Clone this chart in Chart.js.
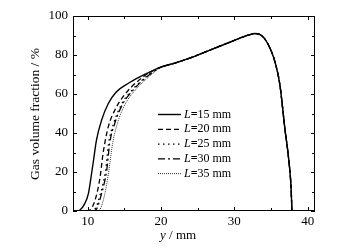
<!DOCTYPE html>
<html>
<head>
    <title>Gas volume fraction</title>
    <script src="https://cdn.jsdelivr.net/npm/chart.js"></script>
    <style>
        body { margin: 0; background: #fff; }
        canvas { display: block; }
    </style>
</head>
<body>
    <canvas id="gasChart" width="337" height="251"></canvas>

    <script>
        // series labels
        const lengths = ['15', '20', '25', '30', '35'];

        // rising part of each curve (y in mm, gas fraction in %)
        const riseX15 = [8.5, 8.95, 9.6, 10.1, 10.4, 10.8, 11.2, 11.9, 12.8, 13.9, 15.5, 17.1, 18.5];
        const riseY15 = [0, 0.5, 3.8, 8.9, 15.8, 26, 36.3, 46.6, 55, 61, 65.4, 68.8, 71.4];

        const riseX20 = [9.8, 10.3, 11.0, 11.7, 12.1, 12.8, 13.7, 14.8, 16.0, 17.3, 18.5];
        const riseY20 = [0, 0.5, 5.5, 17.5, 29.5, 43, 51.7, 58.5, 63.7, 68, 71.2];

        const riseX25 = [10.4, 10.9, 11.75, 12.45, 12.85, 13.55, 14.65, 16.05, 17.2, 18.6];
        const riseY25 = [0, 0.5, 9, 21, 34.6, 45, 55, 62, 66.3, 70.8];

        const riseX30 = [10.6, 11.1, 11.9, 12.6, 13.0, 13.7, 14.8, 16.2, 17.3, 18.7];
        const riseY30 = [0, 0.5, 9, 21, 34.6, 45, 55, 62, 66.3, 70.7];

        const riseX35 = [11.0, 11.6, 12.35, 12.9, 13.4, 14.2, 15.3, 16.7, 17.8, 18.9];
        const riseY35 = [0, 0.5, 9, 21, 34.6, 46.6, 56, 62.9, 67, 70.6];

        // common upper part shared by all curves
        const tailX = [20, 22, 24, 26, 28, 30, 31, 32, 32.8, 33.5, 34.1, 34.8, 35.5, 36.2, 36.9, 37.4, 37.75, 37.85];
        const tailY = [73.8, 76, 78.5, 81.5, 84.5, 87.5, 89, 90.3, 91, 90.5, 88.5, 84, 77, 65, 42, 27, 11, 0];

        // axis tick labels
        const xTicks = [10, 20, 30, 40];
        const xMinor = [15, 25, 35];
        const yTicks = [0, 20, 40, 60, 80, 100];
        const yMinor = [10, 30, 50, 70, 90];

        const dashes = [[], [5, 3], [1.5, 3.5], [7, 3, 2, 3], [1, 1]];
        const widths = [1.4, 1.3, 1.3, 1.3, 0.8];

        const rises = [
            [riseX15, riseY15], [riseX20, riseY20], [riseX25, riseY25],
            [riseX30, riseY30], [riseX35, riseY35]
        ];

        function toPoints(xs, ys) {
            const pts = xs.map((x, i) => ({ x: x, y: ys[i] }));
            return pts.concat(tailX.map((x, i) => ({ x: x, y: tailY[i] })));
        }

        const serif = '"Liberation Serif", "DejaVu Serif", serif';

        const datasets = lengths.map((len, i) => ({
            label: 'L=' + len + ' mm',
            data: toPoints(rises[i][0], rises[i][1]),
            showLine: true,
            borderColor: '#000',
            borderWidth: widths[i],
            borderDash: dashes[i],
            pointRadius: 0,
            cubicInterpolationMode: 'monotone',
            fill: false
        }));

        // frame, inward ticks, legend and axis titles
        const decorations = {
            id: 'decorations',
            afterDatasetsDraw(chart) {
                const ctx = chart.ctx;
                const a = chart.chartArea;
                const xs = chart.scales.x;
                const ys = chart.scales.y;
                ctx.save();
                ctx.strokeStyle = '#000';
                ctx.lineWidth = 1;
                ctx.setLineDash([]);
                ctx.strokeRect(a.left + 0.5, a.top + 0.5, a.right - a.left - 1, a.bottom - a.top - 1);

                ctx.beginPath();
                const xt = (v, len) => {
                    const p = Math.round(xs.getPixelForValue(v)) + 0.5;
                    ctx.moveTo(p, a.bottom); ctx.lineTo(p, a.bottom - len);
                    ctx.moveTo(p, a.top); ctx.lineTo(p, a.top + len);
                };
                const yt = (v, len) => {
                    const p = Math.round(ys.getPixelForValue(v)) + 0.5;
                    ctx.moveTo(a.left, p); ctx.lineTo(a.left + len, p);
                    ctx.moveTo(a.right, p); ctx.lineTo(a.right - len, p);
                };
                xTicks.forEach(v => xt(v, 4));
                xMinor.forEach(v => xt(v, 3));
                yTicks.forEach(v => yt(v, 4));
                yMinor.forEach(v => yt(v, 3));
                ctx.stroke();

                // legend
                ctx.fillStyle = '#000';
                ctx.textBaseline = 'middle';
                chart.data.datasets.forEach((ds, i) => {
                    const yy = 114.5 + i * 14.8;
                    ctx.beginPath();
                    ctx.lineWidth = ds.borderWidth;
                    ctx.setLineDash(ds.borderDash);
                    ctx.moveTo(158, yy);
                    ctx.lineTo(181, yy);
                    ctx.stroke();
                    ctx.setLineDash([]);
                    let x = 184;
                    ctx.textAlign = 'left';
                    ctx.font = 'italic 12px ' + serif;
                    ctx.fillText('L', x, yy);
                    x += ctx.measureText('L').width;
                    ctx.font = 'bold 12px ' + serif;
                    ctx.fillText('=', x, yy);
                    x += ctx.measureText('=').width;
                    ctx.font = '12px ' + serif;
                    ctx.fillText(lengths[i] + ' mm', x, yy);
                });

                // x title
                ctx.textBaseline = 'middle';
                ctx.textAlign = 'left';
                let tx = 160;
                ctx.font = 'italic 13px ' + serif;
                ctx.fillText('y', tx, 236);
                tx += ctx.measureText('y').width;
                ctx.font = '13px ' + serif;
                ctx.fillText(' / mm', tx, 236);

                // y title
                ctx.translate(35, 114);
                ctx.rotate(-Math.PI / 2);
                ctx.textAlign = 'center';
                ctx.font = '13.5px ' + serif;
                ctx.fillText('Gas volume fraction / %', 0, 0);
                ctx.restore();
            }
        };

        new Chart(document.getElementById('gasChart'), {
            type: 'scatter',
            data: { datasets: datasets },
            options: {
                responsive: false,
                animation: false,
                devicePixelRatio: 1,
                layout: { padding: { top: 16, right: 22, left: 0, bottom: 0 } },
                plugins: {
                    legend: { display: false },
                    tooltip: { enabled: false }
                },
                scales: {
                    x: {
                        type: 'linear',
                        min: 8,
                        max: 41,
                        grid: { display: false, drawTicks: false },
                        border: { display: false },
                        afterBuildTicks: s => { s.ticks = xTicks.map(v => ({ value: v })); },
                        afterFit: s => { s.height = 40; },
                        ticks: {
                            color: '#000',
                            padding: 3,
                            maxRotation: 0,
                            font: { family: serif, size: 13 }
                        }
                    },
                    y: {
                        min: 0,
                        max: 100,
                        grid: { display: false, drawTicks: false },
                        border: { display: false },
                        afterBuildTicks: s => { s.ticks = yTicks.map(v => ({ value: v })); },
                        afterFit: s => { s.width = 73; },
                        ticks: {
                            color: '#000',
                            padding: 5,
                            font: { family: serif, size: 13 }
                        }
                    }
                }
            },
            plugins: [decorations]
        });
    </script>
</body>
</html>
